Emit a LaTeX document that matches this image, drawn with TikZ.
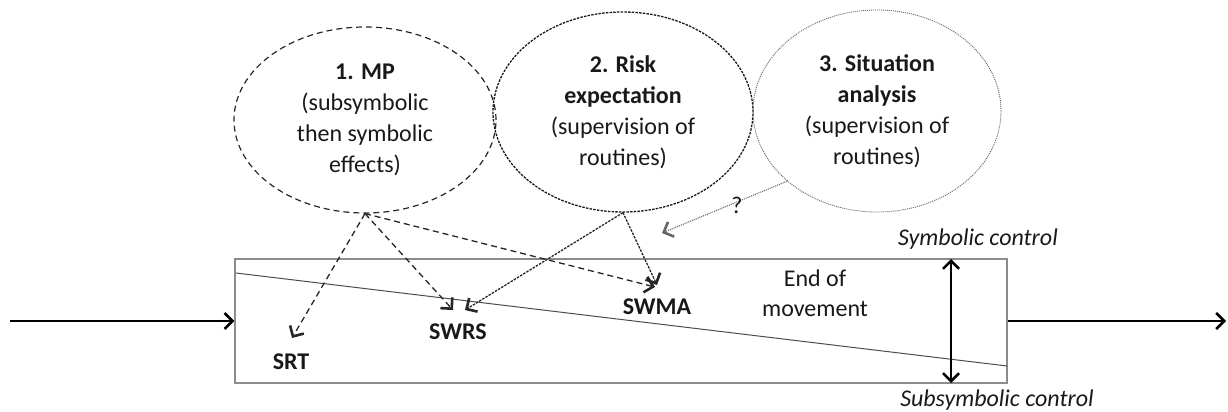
\documentclass[tikz,border=0pt]{standalone}
\usepackage{fontspec}
\setmainfont{Carlito}
\usetikzlibrary{shapes.geometric,arrows.meta}
\begin{document}
\begin{tikzpicture}[x=1pt,y=-1pt,
  txt/.style={font=\fontsize{24}{30}\selectfont, align=center, inner sep=0pt, text=black!90},
  bub/.style={ellipse, inner sep=0pt, align=center, font=\fontsize{24}{31}\selectfont, text=black!90},
  bubA/.style={bub, draw=black!85, line width=1.2pt, dash pattern=on 6pt off 4pt},
  bubB/.style={bub, draw=black!90, line width=1.3pt, dash pattern=on 2.5pt off 1.2pt},
  bubC/.style={bub, draw=black!60, line width=0.9pt, dash pattern=on 1pt off 1pt},
  tip/.style={-{Straight Barb[length=8pt,width=16pt,line width=2.6pt]}},
  arA/.style={tip, draw=black!85, line width=1.3pt, dash pattern=on 6pt off 4pt},
  arB/.style={tip, draw=black!85, line width=1.3pt, dash pattern=on 2.5pt off 1.2pt},
  arC/.style={tip, draw=black!60, line width=1.1pt, dash pattern=on 1pt off 1pt},
  solid arrow/.style={tip, draw=black, line width=1.3pt},
  boxst/.style={draw=black!45, line width=1.2pt, minimum width=772pt, minimum height=124pt, inner sep=0pt}
]
\useasboundingbox (0,0) rectangle (1228,412);

% bubbles
\node[bubA, minimum width=262pt, minimum height=186pt] (mp) at (365,120)
  {\textbf{1. MP}\\(subsymbolic\\then symbolic\\effects)};
\node[bubB, minimum width=260pt, minimum height=200pt] (risk) at (623,112)
  {\textbf{2. Risk}\\\textbf{expectation}\\(supervision of\\routines)};
\node[bubC, minimum width=248pt, minimum height=202pt] (sit) at (877,111)
  {\textbf{3. Situation}\\\textbf{analysis}\\(supervision of\\routines)};

% box
\node[boxst] (box) at (621,321) {};
\coordinate (dA) at (236,273);
\coordinate (dB) at (1007,366);
\draw[black!70, line width=1pt] (dA) -- (dB);

% labels inside box
\node[txt, font=\bfseries\fontsize{24}{30}\selectfont] (srt) at (291,362) {SRT};
\node[txt, font=\bfseries\fontsize{24}{30}\selectfont] (swrs) at (458,332) {SWRS};
\node[txt, font=\bfseries\fontsize{24}{30}\selectfont] (swma) at (657,307) {SWMA};
\node[txt] (eom) at (815,293) {End of\\movement};

% tip coordinates
\coordinate (srtT) at (292,338);
\coordinate (swrsT1) at (453,310);
\coordinate (swrsT2) at (465,310);
\coordinate (swmaT1) at (655,287);
\coordinate (swmaT2) at (657,285);
\coordinate (qT) at (662,233);

% arrows from MP
\draw[arA] (mp.south) -- (srtT);
\draw[arA] (mp.south) -- (swrsT1);
\draw[arA] (mp.south) -- (swmaT1);
% arrows from Risk
\draw[arB] (risk.south) -- (swrsT2);
\draw[arB] (risk.south) -- (swmaT2);
% dotted from Situation
\draw[arC] (sit.218) -- (qT);
\node[txt] (q) at (737,205) {?};

% control arrow
\node[txt, font=\itshape\fontsize{24}{30}\selectfont] (symc) at (978,239) {Symbolic control};
\node[txt, font=\itshape\fontsize{24}{30}\selectfont] (subc) at (997,400) {Subsymbolic control};
\coordinate (cTop) at (951,259);
\coordinate (cBot) at (951,383);
\draw[solid arrow, {Straight Barb[length=8pt,width=16pt,line width=2.6pt]}-{Straight Barb[length=8pt,width=16pt,line width=2.6pt]}] (cTop) -- (cBot);

% input / output
\coordinate (inS) at (10,321);
\coordinate (outE) at (1226,321);
\draw[solid arrow] (inS) -- (box.west);
\draw[solid arrow] (box.east) -- (outE);
\end{tikzpicture}
\end{document}
